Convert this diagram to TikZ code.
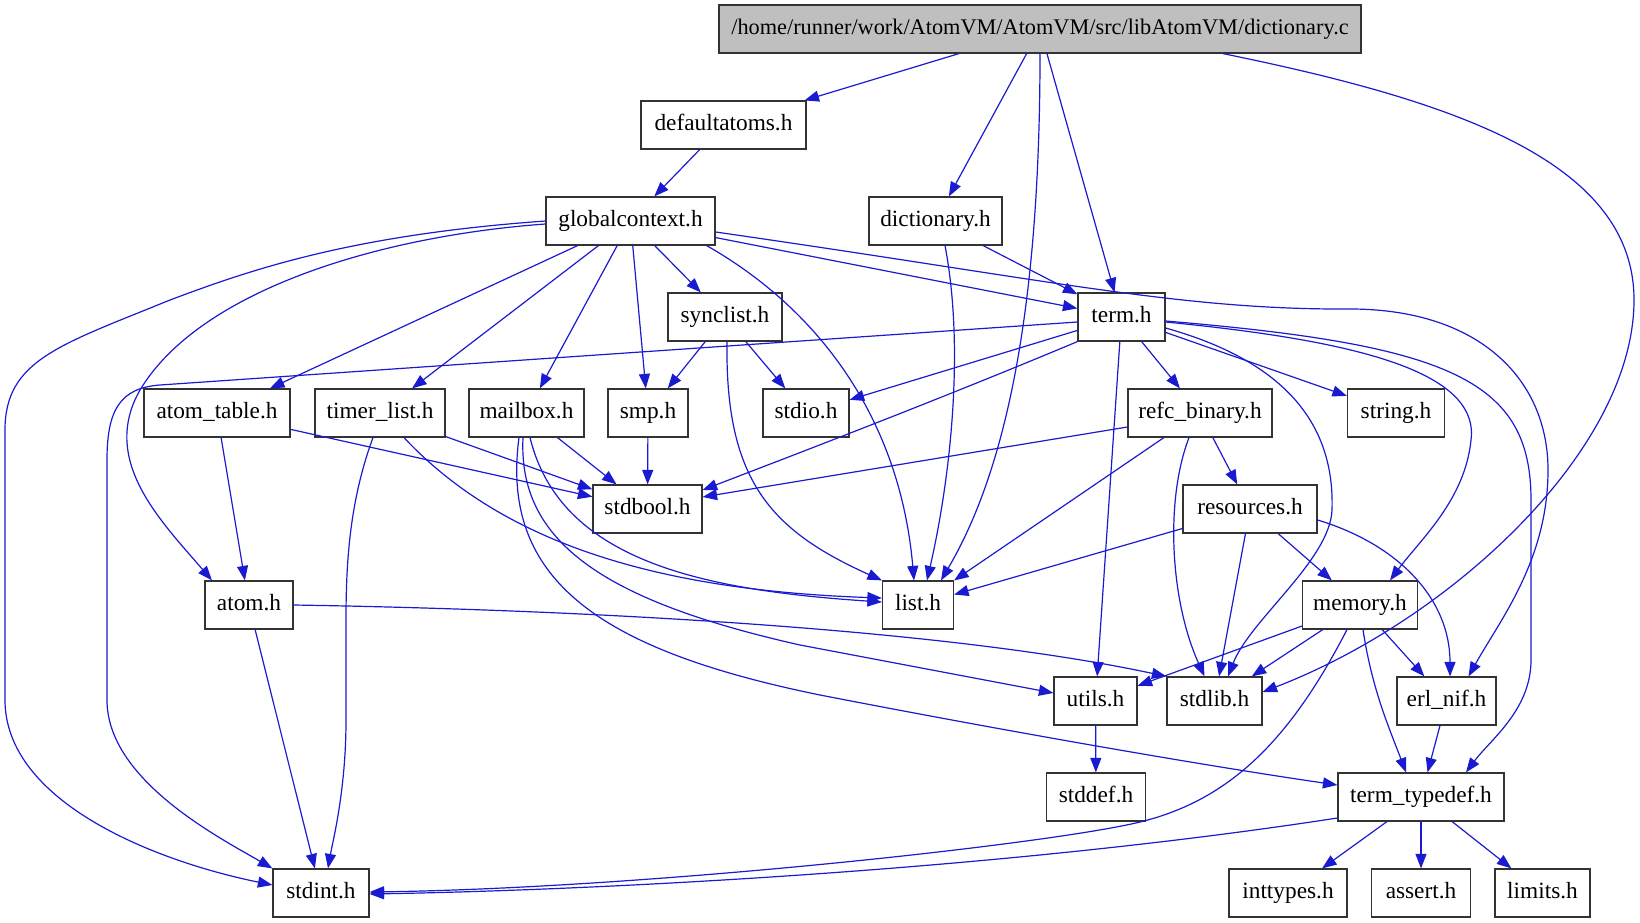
\documentclass[tikz,border=0pt]{standalone}
\usepackage{fontspec}
\setmainfont{Liberation Serif}
\usetikzlibrary{arrows.meta}
\definecolor{edgeblue}{RGB}{26,26,208}
\definecolor{rootgray}{RGB}{191,191,191}
\begin{document}
\begin{tikzpicture}[x=1pt,y=-1pt,
  fbox/.style={draw=black!80, line width=1.2pt, rectangle, inner sep=0pt,
    minimum height=48pt, font=\fontsize{23.3}{28}\selectfont,
    text height=16.5pt, text depth=5pt},
  rootbox/.style={fbox, fill=rootgray, font=\fontsize{22.3}{27}\selectfont},
  dep/.style={draw=edgeblue, line width=1.2pt, -{Triangle[length=14.5pt,width=11pt]}}]
\useasboundingbox (0,0) rectangle (1640,923);

% nodes
\node[rootbox, minimum width=642pt] (dictc) at (1040,29) {/home/runner/work/AtomVM/AtomVM/src/libAtomVM/dictionary.c};
\node[fbox, minimum width=165pt] (defatoms) at (723.5,125) {defaultatoms.h};
\node[fbox, minimum width=169pt] (gctx) at (630.5,221) {globalcontext.h};
\node[fbox, minimum width=133pt] (dicth) at (935.5,221) {dictionary.h};
\node[fbox, minimum width=87pt] (term) at (1121.5,317) {term.h};
\node[fbox, minimum width=114pt] (sync) at (725,317) {synclist.h};
\node[fbox, minimum width=146pt] (atomtab) at (217,413) {atom\_table.h};
\node[fbox, minimum width=130pt] (timer) at (380,413) {timer\_list.h};
\node[fbox, minimum width=115pt] (mailbox) at (526.5,413) {mailbox.h};
\node[fbox, minimum width=80pt] (smp) at (648,413) {smp.h};
\node[fbox, minimum width=86pt] (stdio) at (806,413) {stdio.h};
\node[fbox, minimum width=144pt] (refc) at (1200,413) {refc\_binary.h};
\node[fbox, minimum width=97pt] (string) at (1396,413) {string.h};
\node[fbox, minimum width=109pt] (stdbool) at (647.5,509) {stdbool.h};
\node[fbox, minimum width=134pt] (resources) at (1250,509) {resources.h};
\node[fbox, minimum width=88pt] (atom) at (249,605) {atom.h};
\node[fbox, minimum width=71pt] (list) at (918,605) {list.h};
\node[fbox, minimum width=115pt] (memory) at (1360,605) {memory.h};
\node[fbox, minimum width=83pt] (utils) at (1095.5,701) {utils.h};
\node[fbox, minimum width=95pt] (stdlib) at (1214.5,701) {stdlib.h};
\node[fbox, minimum width=99pt] (erlnif) at (1446.5,701) {erl\_nif.h};
\node[fbox, minimum width=99pt] (stddef) at (1096,797) {stddef.h};
\node[fbox, minimum width=166pt] (ttypedef) at (1421,797) {term\_typedef.h};
\node[fbox, minimum width=96pt] (stdint) at (321,893) {stdint.h};
\node[fbox, minimum width=118pt] (inttypes) at (1288,893) {inttypes.h};
\node[fbox, minimum width=99pt] (assert) at (1421,893) {assert.h};
\node[fbox, minimum width=95pt] (limits) at (1542.5,893) {limits.h};

% dictionary.c
\draw[dep] (dictc) -- (defatoms);
\draw[dep] (dictc) -- (dicth);
\draw[dep] (dictc) -- (term);
\draw[dep] (dictc.south) .. controls (1040,330) and (1000,480) .. ([xshift=23pt]list.north);
\draw[dep] ([xshift=183pt]dictc.south) .. controls (1450,100) and (1634,160) .. (1634,300)
   .. controls (1634,450) and (1450,620) .. ([yshift=9pt]stdlib.east);

% defaultatoms
\draw[dep] (defatoms) -- (gctx);

% globalcontext
\draw[dep] (gctx.west) .. controls (350,235) and (250,270) .. (170,300)
   .. controls (60,345) and (5,360) .. (5,430) -- (5,700)
   .. controls (5,800) and (150,860) .. ([yshift=8pt]stdint.west);
\draw[dep] ([yshift=-3pt]gctx.west) .. controls (380,236) and (200,290) .. (140,390)
   .. controls (100,460) and (160,520) .. ([xshift=-37pt]atom.north);
\draw[dep] (gctx) -- (atomtab);
\draw[dep] (gctx) -- (timer);
\draw[dep] (gctx) -- (mailbox);
\draw[dep] (gctx) -- (smp);
\draw[dep] (gctx) -- (sync);
\draw[dep] ([xshift=-9pt]gctx.south east) .. controls (820,310) and (900,420) .. ([xshift=-4pt]list.north);
\draw[dep] (gctx) -- (term);
\draw[dep] ([yshift=-11pt]gctx.east) .. controls (1050,280) and (1180,310) .. (1350,309)
   .. controls (1480,309) and (1548,380) .. (1548,470)
   .. controls (1548,560) and (1500,620) .. ([xshift=22pt]erlnif.north);

% dictionary.h
\draw[dep] (dicth) -- (term);
\draw[dep] ([xshift=9.5pt]dicth.south) .. controls (965,350) and (950,480) .. ([xshift=9pt]list.north);

% term.h
\draw[dep] ([yshift=-5pt]term.west) -- (160,385) .. controls (120,388) and (107,410) .. (107,460)
   -- (107,700) .. controls (107,780) and (220,838) .. (stdint.north west);
\draw[dep] (term) -- (stdio);
\draw[dep] (term.south west) .. controls (950,395) and (820,445) .. ([yshift=19pt]stdbool.east);
\draw[dep] (term) -- (refc);
\draw[dep] (term) -- (string);
\draw[dep] (term) -- (utils);
\draw[dep] ([yshift=-11pt]term.east) .. controls (1280,360) and (1335,420) .. (1332,510)
   .. controls (1330,560) and (1250,620) .. ([xshift=13.5pt]stdlib.north);
\draw[dep] ([yshift=-5pt]term.east) .. controls (1350,340) and (1480,370) .. (1471,440)
   .. controls (1465,500) and (1420,540) .. ([xshift=30pt]memory.north);
\draw[dep] ([yshift=-4pt]term.east) .. controls (1450,345) and (1531,380) .. (1531,500)
   -- (1531,660) .. controls (1531,710) and (1490,740) .. ([xshift=45pt]ttypedef.north);

% synclist.h
\draw[dep] (sync) -- (smp);
\draw[dep] (sync) -- (stdio);
\draw[dep] ([xshift=2pt]sync.south) .. controls (725,480) and (770,530) .. (list.north west);

% atom_table.h
\draw[dep] (atomtab) -- (stdbool);
\draw[dep] (atomtab) -- (atom);

% timer_list.h
\draw[dep] (timer) -- (stdbool);
\draw[dep] ([xshift=24pt]timer.south) .. controls (500,540) and (650,590) .. ([yshift=7pt]list.west);
\draw[dep] ([xshift=-7pt]timer.south) .. controls (350,500) and (346,560) .. (346,620)
   -- (346,720) .. controls (346,790) and (333,840) .. ([xshift=7pt]stdint.north);

% mailbox.h
\draw[dep] (mailbox) -- (stdbool);
\draw[dep] ([xshift=3.5pt]mailbox.south) .. controls (560,560) and (700,590) .. ([yshift=3pt]list.west);
\draw[dep] ([xshift=-3.5pt]mailbox.south) .. controls (518,540) and (600,600) .. (800,645)
   -- ([yshift=8pt]utils.west);
\draw[dep] ([xshift=-7.5pt]mailbox.south) .. controls (500,580) and (600,650) .. (820,695)
   .. controls (1000,730) and (1200,765) .. ([yshift=12pt]ttypedef.west);

% smp.h
\draw[dep] (smp) -- (stdbool);

% atom.h
\draw[dep] (atom) -- (stdint);
\draw[dep] (atom.east) .. controls (600,610) and (950,630) .. (stdlib.north west);

% refc_binary.h
\draw[dep] ([yshift=-14pt]refc.west) -- ([yshift=12pt]stdbool.east);
\draw[dep] (refc) -- (list);
\draw[dep] ([xshift=-11pt]refc.south) .. controls (1165,500) and (1170,600) .. ([xshift=-10pt]stdlib.north);
\draw[dep] (refc) -- (resources);

% resources.h
\draw[dep] (resources) -- (list);
\draw[dep] (resources) -- (stdlib);
\draw[dep] (resources) -- (memory);
\draw[dep] ([yshift=-11pt]resources.east) .. controls (1400,545) and (1450,600) .. ([xshift=3.5pt]erlnif.north);

% memory.h
\draw[dep] (memory) -- (utils);
\draw[dep] (memory) -- (stdlib);
\draw[dep] (memory) -- (erlnif);
\draw[dep] ([xshift=3pt]memory.south) .. controls (1372,690) and (1390,730) .. ([xshift=-15pt]ttypedef.north);
\draw[dep] ([xshift=-13pt]memory.south) .. controls (1290,740) and (1230,800) .. (1140,822)
   .. controls (1050,844) and (650,888) .. ([yshift=1pt]stdint.east);

% utils.h, erl_nif.h
\draw[dep] (utils) -- (stddef);
\draw[dep] (erlnif) -- (ttypedef);

% term_typedef.h
\draw[dep] ([yshift=-21pt]ttypedef.west) .. controls (1000,870) and (600,890) .. ([yshift=-1pt]stdint.east);
\draw[dep] (ttypedef) -- (inttypes);
\draw[dep] (ttypedef) -- (assert);
\draw[dep] (ttypedef) -- (limits);
\end{tikzpicture}
\end{document}
